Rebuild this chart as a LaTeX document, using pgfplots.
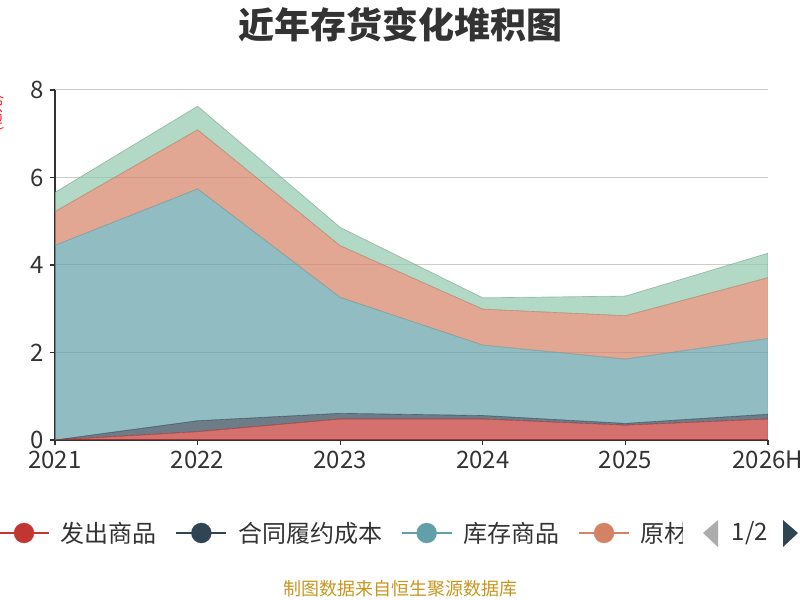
\documentclass[border=0pt]{standalone}
\usepackage{pgfplots}
\pgfplotsset{compat=1.18}
\usepackage{fontspec}
\setmainfont{Noto Sans CJK SC}
\definecolor{c1}{HTML}{C23531}
\definecolor{c2}{HTML}{2F4554}
\definecolor{c3}{HTML}{61A0A8}
\definecolor{c4}{HTML}{D48265}
\definecolor{c5}{HTML}{91C7AE}
\definecolor{c333}{HTML}{333333}
\definecolor{gridc}{HTML}{CCCCCC}
\definecolor{footc}{HTML}{C8961E}
\pgfplotstableread{
x a b c d e
0 0.00 0.00 4.45 0.77 0.44
1 0.19 0.25 5.30 1.35 0.54
2 0.48 0.13 2.65 1.18 0.42
3 0.48 0.08 1.61 0.82 0.26
4 0.34 0.04 1.47 0.99 0.45
5 0.48 0.11 1.73 1.39 0.56
}\datatable
\begin{document}
\begin{tikzpicture}
\useasboundingbox (0,0) rectangle (600pt,450pt);
\begin{axis}[
  at={(41.25pt,120pt)}, anchor=south west,
  scale only axis, width=534.75pt, height=262.5pt,
  xmin=0, xmax=5, ymin=0, ymax=8,
  xtick={0,1,2,3,4,5},
  xticklabels={2021,2022,2023,2024,2025,2026H},
  ytick={0,2,4,6,8},
  stack plots=y,
  axis x line=bottom, axis y line=left,
  axis line style={-, c333, line width=1.2pt},
  tick style={c333, line width=1pt},
  tick align=outside,
  major tick length=3.75pt,
  ymajorgrids, xmajorgrids=false,
  major grid style={gridc, line width=0.75pt},
  /pgf/number format/assume math mode=true,
  ticklabel style={font=\fontsize{18pt}{22pt}\selectfont, text=c333},
  xticklabel style={yshift=-1pt},
  yticklabel style={xshift=-1pt},
  legend style={draw=none, fill=none, at={(-0.0799,-0.2657)}, anchor=west,
    legend columns=-1, inner sep=0pt, outer sep=0pt,
    font=\fontsize{18pt}{22pt}\selectfont, text=c333,
    /tikz/every odd column/.append style={column sep=6pt},
    /tikz/every even column/.append style={column sep=12pt}},
]
\addplot[fill=c1, fill opacity=0.7, draw=c1, draw opacity=0.5, line width=0.5pt,
  legend image code/.code={\draw[c1, draw opacity=1, line width=1.5pt] (0pt,0pt) -- (37.5pt,0pt); \fill[c1, fill opacity=1] (18.75pt,0pt) circle (7.5pt);}]
  table[x=x, y=a] {\datatable} \closedcycle;
\addplot[fill=c2, fill opacity=0.7, draw=c2, draw opacity=0.5, line width=0.5pt,
  legend image code/.code={\draw[c2, draw opacity=1, line width=1.5pt] (0pt,0pt) -- (37.5pt,0pt); \fill[c2, fill opacity=1] (18.75pt,0pt) circle (7.5pt);}]
  table[x=x, y=b] {\datatable} \closedcycle;
\addplot[fill=c3, fill opacity=0.7, draw=c3, draw opacity=0.5, line width=0.5pt,
  legend image code/.code={\draw[c3, draw opacity=1, line width=1.5pt] (0pt,0pt) -- (37.5pt,0pt); \fill[c3, fill opacity=1] (18.75pt,0pt) circle (7.5pt);}]
  table[x=x, y=c] {\datatable} \closedcycle;
\addplot[fill=c4, fill opacity=0.7, draw=c4, draw opacity=0.5, line width=0.5pt,
  legend image code/.code={\draw[c4, draw opacity=1, line width=1.5pt] (0pt,0pt) -- (37.5pt,0pt); \fill[c4, fill opacity=1] (18.75pt,0pt) circle (7.5pt);}]
  table[x=x, y=d] {\datatable} \closedcycle;
\addplot[fill=c5, fill opacity=0.7, draw=c5!70!black, draw opacity=0.5, line width=0.5pt]
  table[x=x, y=e] {\datatable} \closedcycle;
\legend{发出商品,合同履约成本,库存商品,原材料}
\end{axis}
% title
\node[font=\fontsize{27pt}{32pt}\selectfont\bfseries, text=c333] at (300pt,431.25pt) {近年存货变化堆积图};
% y-axis name (clipped at the left edge)
\node[rotate=90, text=red, font=\fontsize{10pt}{12pt}\selectfont] at (-2.2pt,365pt) {(亿元)};
% legend pager
\fill[white] (512.25pt,38pt) rectangle (600pt,72pt);
\fill[gray!65] (527.25pt,50.25pt) -- (538.5pt,60pt) -- (538.5pt,39.75pt) -- cycle;
\node[font=\fontsize{18pt}{22pt}\selectfont, text=c333] at (562.5pt,50.25pt) {1/2};
\fill[c2] (587.25pt,60pt) -- (598.5pt,50.25pt) -- (587.25pt,39.75pt) -- cycle;
% footer
\node[font=\fontsize{13.5pt}{16pt}\selectfont, text=footc] at (300pt,8.25pt) {制图数据来自恒生聚源数据库};
\end{tikzpicture}
\end{document}
